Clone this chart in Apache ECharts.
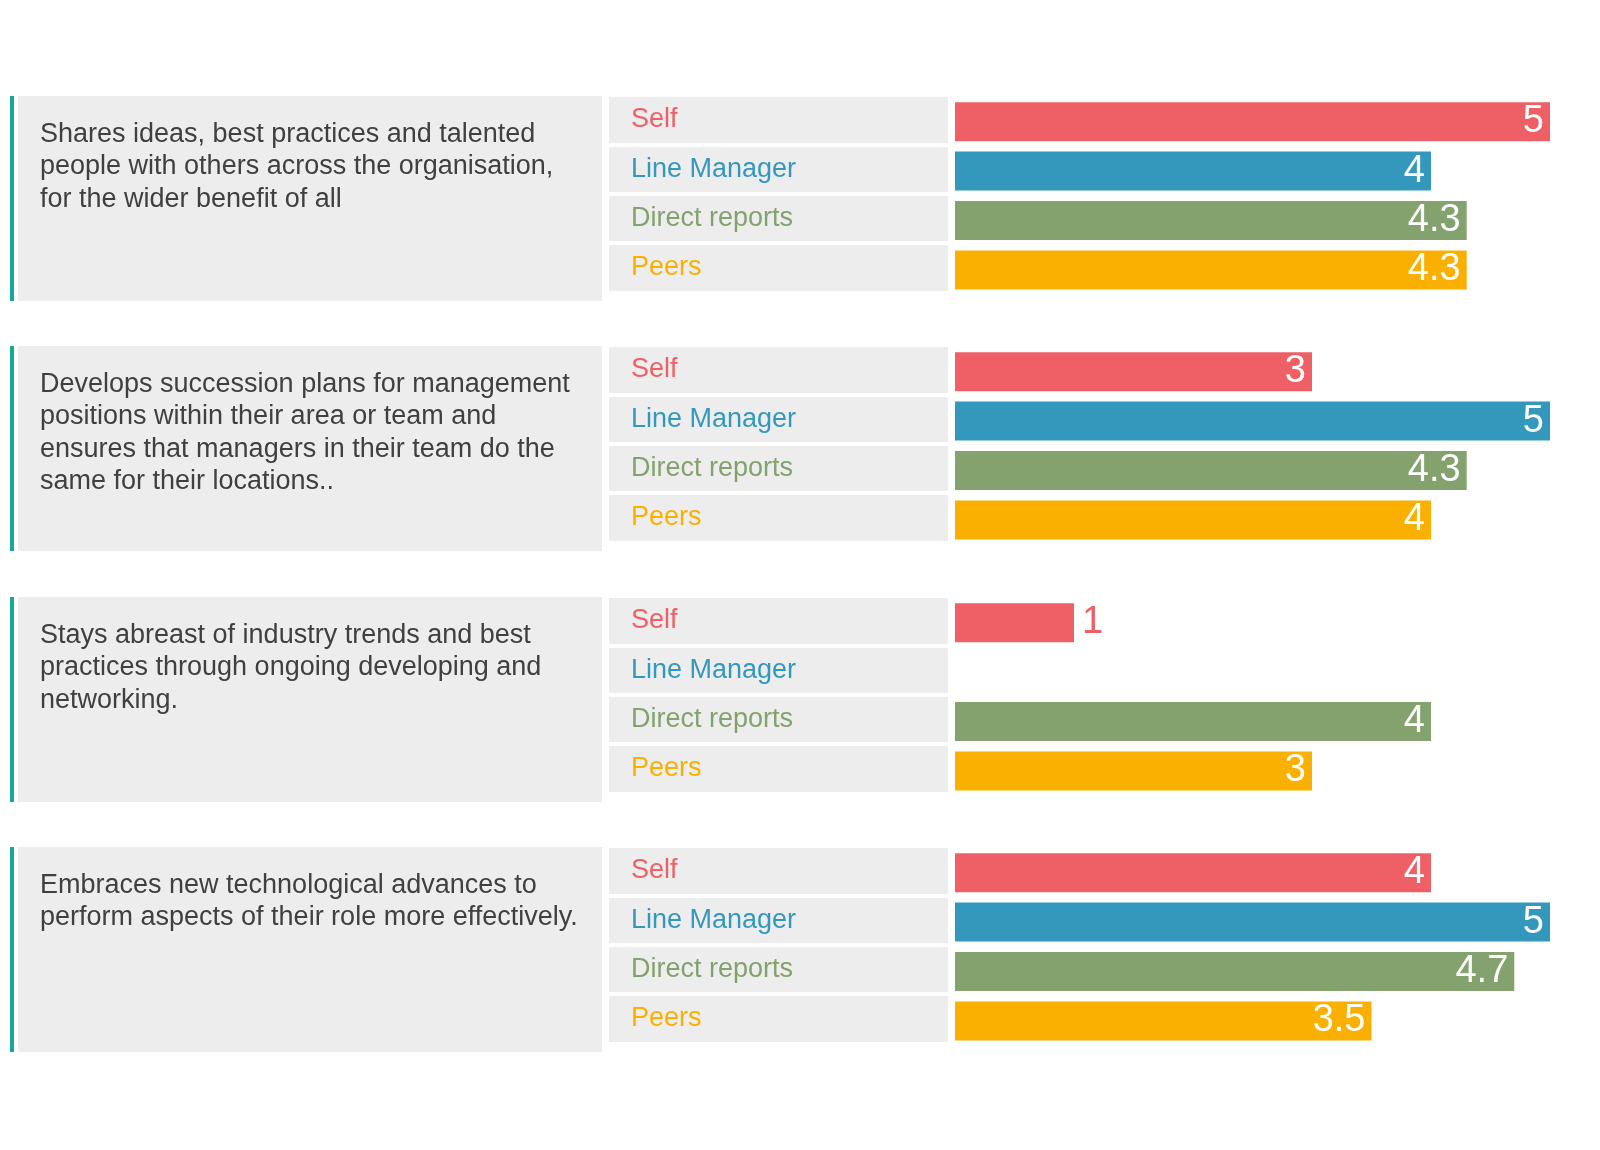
<!DOCTYPE html>
<html>
<head>
<meta charset="utf-8">
<script src="https://cdn.jsdelivr.net/npm/echarts@6/dist/echarts.min.js"></script>
<style>
html,body{margin:0;padding:0;background:#fff;}
#chart{width:1600px;height:1150px;}
</style>
</head>
<body>
<div id="chart"></div>
<script>
// ---- data ----
const raters = ['Self', 'Line Manager', 'Direct reports', 'Peers'];
const raterColors = ['#ee6066', '#3498bd', '#84a26e', '#f9b000'];
const statements = [
  'Shares ideas, best practices and talented\npeople with others across the organisation,\nfor the wider benefit of all',
  'Develops succession plans for management\npositions within their area or team and\nensures that managers in their team do the\nsame for their locations..',
  'Stays abreast of industry trends and best\npractices through ongoing developing and\nnetworking.',
  'Embraces new technological advances to\nperform aspects of their role more effectively.'
];
const scores1 = [5, 4, 4.3, 4.3];
const scores2 = [3, 5, 4.3, 4];
const scores3 = [1, null, 4, 3];
const scores4 = [4, 5, 4.7, 3.5];
const scoreSets = [scores1, scores2, scores3, scores4];
const scaleMax = 5;

// ---- layout ----
const FONT = '"Liberation Sans", Arial, Helvetica, sans-serif';
const firstTop = 97, groupPitch = 250.3, rowPitch = 49.4;
const chart = echarts.init(document.getElementById('chart'));
const grids = [], xAxes = [], yAxes = [], series = [], graphics = [];

scoreSets.forEach((scores, g) => {
  const T = Math.round(firstTop + g * groupPitch);
  const h = rowPitch * raters.length;
  // label grid
  grids.push({ left: 609, width: 339, top: T - 2, height: h, containLabel: false });
  xAxes.push({ type: 'value', gridIndex: 2 * g, min: 0, max: 1, show: false });
  yAxes.push({
    type: 'category', gridIndex: 2 * g, data: raters, inverse: true,
    axisLine: { show: false }, axisTick: { show: false },
    axisLabel: {
      inside: true, margin: 22, fontSize: 27, fontFamily: FONT,
      color: (v, i) => raterColors[raters.indexOf(v)]
    },
    splitArea: { show: true, areaStyle: { color: ['#ededed'] } },
    splitLine: { show: true, lineStyle: { color: '#ffffff', width: 4 } }
  });
  // bar grid
  grids.push({ left: 955, right: 50, top: T, height: h, containLabel: false });
  xAxes.push({ type: 'value', gridIndex: 2 * g + 1, min: 0, max: scaleMax, show: false });
  yAxes.push({ type: 'category', gridIndex: 2 * g + 1, data: raters, inverse: true, show: false });
  series.push({
    type: 'bar', xAxisIndex: 2 * g + 1, yAxisIndex: 2 * g + 1,
    barWidth: 39, silent: true,
    data: scores.map((v, i) => {
      const item = { value: v, itemStyle: { color: raterColors[i] } };
      if (v !== null && v <= 1) {
        item.label = { position: 'right', color: raterColors[i], distance: 8 };
      }
      return item;
    }),
    label: {
      show: true, position: 'insideRight', distance: 6, color: '#ffffff',
      fontSize: 38, fontFamily: FONT
    }
  });
  // statement panel
  graphics.push({ type: 'rect', shape: { x: 18, y: T - 1, width: 584, height: 205 }, style: { fill: '#ededed' }, silent: true });
  graphics.push({ type: 'rect', shape: { x: 10, y: T - 1, width: 4, height: 205 }, style: { fill: '#17a79a' }, silent: true });
  graphics.push({
    type: 'text', x: 40, y: T + 21, silent: true,
    style: { text: statements[g], fill: '#404040', font: '27px ' + FONT, lineHeight: 32.5 }
  });
});

chart.setOption({
  animation: false,
  backgroundColor: '#ffffff',
  grid: grids, xAxis: xAxes, yAxis: yAxes, series: series,
  graphic: graphics
});
</script>
</body>
</html>
